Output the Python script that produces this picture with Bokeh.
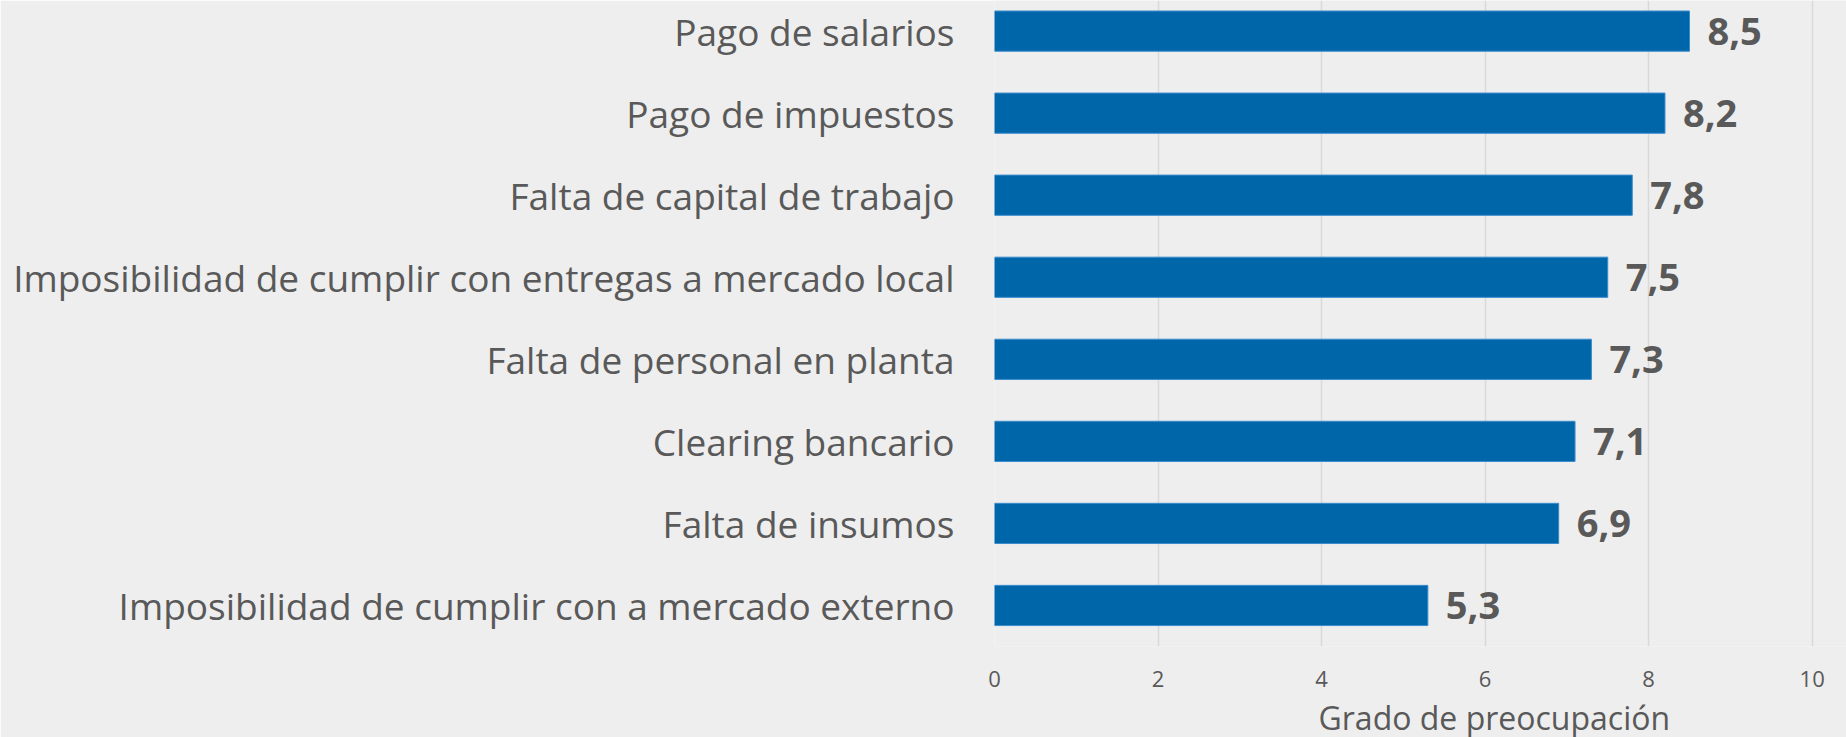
from bokeh.plotting import figure
from bokeh.models import Range1d, FixedTicker, ColumnDataSource, Title
from bokeh.embed import file_html
from bokeh.resources import INLINE

categories = [
    "Pago de salarios",
    "Pago de impuestos",
    "Falta de capital de trabajo",
    "Imposibilidad de cumplir con entregas a mercado local",
    "Falta de personal en planta",
    "Clearing bancario",
    "Falta de insumos",
    "Imposibilidad de cumplir con a mercado externo",
]
values = [8.5, 8.2, 7.8, 7.5, 7.3, 7.1, 6.9, 5.3]
value_labels = ["8,5", "8,2", "7,8", "7,5", "7,3", "7,1", "6,9", "5,3"]
x_ticks = [0, 2, 4, 6, 8, 10]
x_title = "Grado de preocupación"

pos = list(range(len(categories)))
src = ColumnDataSource(dict(y=pos, v=values, lab=value_labels))

BG = "#eeeeee"
TXT = "#595959"
FONT = "Open Sans"

p = figure(
    frame_width=852, frame_height=646,
    x_range=Range1d(0, 10.42),
    y_range=Range1d(7.5, -0.373),
    output_backend="svg", toolbar_location=None,
    min_border_left=994, min_border_right=0, min_border_top=0, min_border_bottom=91,
)
p.background_fill_color = BG
p.border_fill_color = BG
p.outline_line_color = None

p.hbar(y="y", right="v", left=0, height=0.49, source=src,
       fill_color="#0066aa", line_color="#3a8ccc", line_width=1)

p.text(x="v", y="y", text="lab", source=src, x_offset=18,
       text_baseline="middle", text_align="left",
       text_font={"value": FONT}, text_font_style="bold",
       text_font_size="38px", text_color=TXT)

# y axis
p.yaxis.ticker = FixedTicker(ticks=pos)
p.yaxis.major_label_overrides = {i: c for i, c in zip(pos, categories)}
p.yaxis.major_label_text_font = FONT
p.yaxis.major_label_text_font_size = "37px"
p.yaxis.major_label_text_color = TXT
p.yaxis.major_label_standoff = 34
p.yaxis.axis_line_color = None
p.yaxis.major_tick_line_color = None
p.yaxis.minor_tick_line_color = None

# x axis
p.xaxis.ticker = FixedTicker(ticks=x_ticks)
p.xaxis.major_label_text_font = FONT
p.xaxis.major_label_text_font_size = "22px"
p.xaxis.major_label_text_color = TXT
p.xaxis.major_label_standoff = 18
p.xaxis.axis_line_color = None
p.xaxis.major_tick_line_color = None
p.xaxis.minor_tick_line_color = None

p.ygrid.grid_line_color = None
p.xgrid.grid_line_color = "#d9d9d9"
p.xgrid.grid_line_width = 1.5

p.add_layout(Title(text=x_title, align="left", offset=324, standoff=9,
                   text_font=FONT, text_font_size="32px", text_font_style="normal",
                   text_color=TXT), "below")

html = file_html(p, INLINE)
html = html.replace("<body>", '<body style="background:#eeeeee;margin:0;overflow:hidden">', 1)
open("out.html", "w").write(html)
